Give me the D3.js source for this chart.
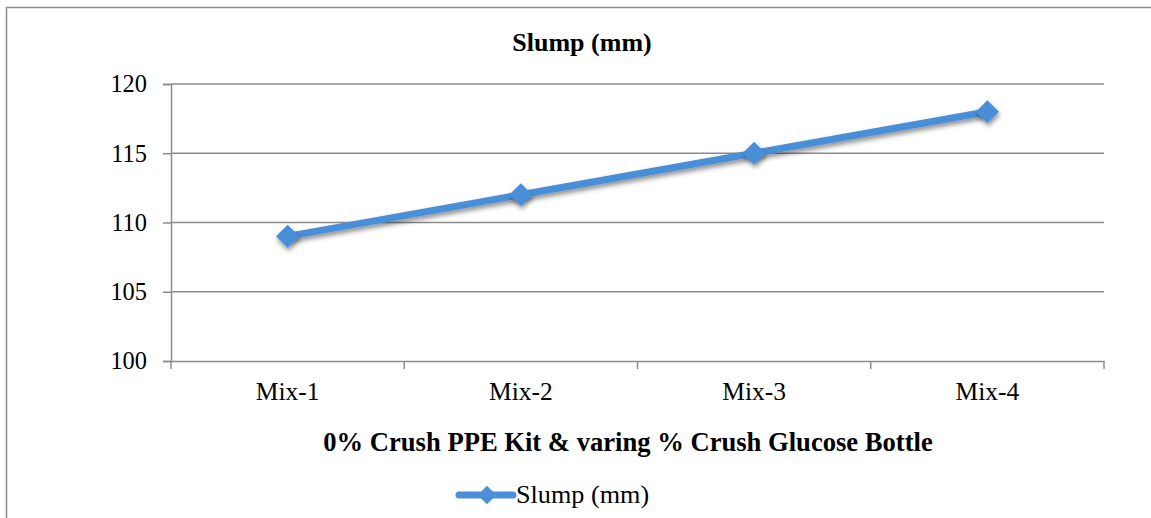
<!DOCTYPE html>
<html>
<head>
<meta charset="utf-8">
<script src="https://cdn.jsdelivr.net/npm/d3@7"></script>
<style>
  body { margin: 0; background: #fff; }
  svg { display: block; font-family: "Liberation Serif", "Times New Roman", serif; }
</style>
</head>
<body>
<script>
const width = 1151;
const height = 518;

const categories = ['Mix-1', 'Mix-2', 'Mix-3', 'Mix-4'];
const slump = [109, 112, 115, 118];
const yTicks = [100, 105, 110, 115, 120];
const seriesName = 'Slump (mm)';

const plot = { left: 171, right: 1104, top: 84, bottom: 361 };
const lineColor = '#4a8fd8';
const gridColor = '#8c8c8c';

const svg = d3.select('body')
  .append('svg')
  .attr('width', width)
  .attr('height', height);

const defs = svg.append('defs');
const shadow = defs.append('filter')
  .attr('id', 'shadow')
  .attr('x', '-50%').attr('y', '-50%')
  .attr('width', '200%').attr('height', '200%');
shadow.append('feDropShadow')
  .attr('dx', 1).attr('dy', 3)
  .attr('stdDeviation', 2.5)
  .attr('flood-color', '#000')
  .attr('flood-opacity', 0.45);

// outer chart border (runs off the window on right and bottom)
svg.append('rect')
  .attr('x', 6.5).attr('y', 7.5)
  .attr('width', 1200).attr('height', 600)
  .attr('fill', 'none')
  .attr('stroke', gridColor)
  .attr('stroke-width', 1.5);

const x = d3.scaleBand()
  .domain(categories)
  .range([plot.left, plot.right]);

const y = d3.scaleLinear()
  .domain([100, 120])
  .range([plot.bottom, plot.top]);

// gridlines
svg.append('g')
  .selectAll('line')
  .data(yTicks.slice(1))
  .enter()
  .append('line')
  .attr('x1', plot.left)
  .attr('x2', plot.right)
  .attr('y1', d => y(d))
  .attr('y2', d => y(d))
  .attr('stroke', gridColor)
  .attr('stroke-width', 1.5);

// y axis
const yAxis = svg.append('g')
  .attr('transform', `translate(${plot.left},0)`)
  .call(d3.axisLeft(y).tickValues(yTicks).tickSize(8).tickPadding(16));
yAxis.select('.domain').attr('stroke', gridColor).attr('stroke-width', 1.5);
yAxis.selectAll('.tick line').attr('stroke', gridColor).attr('stroke-width', 1.5);
yAxis.selectAll('.tick text')
  .attr('font-family', '"Liberation Serif", serif')
  .attr('font-size', 24.4)
  .attr('fill', '#000');

// x axis
const xAxis = svg.append('g')
  .attr('transform', `translate(0,${plot.bottom})`)
  .call(d3.axisBottom(x).tickSize(0));
xAxis.select('.domain').attr('stroke', gridColor).attr('stroke-width', 1.5);
xAxis.selectAll('.tick text')
  .attr('font-family', '"Liberation Serif", serif')
  .attr('font-size', 25.5)
  .attr('fill', '#000')
  .attr('y', 39)
  .attr('dy', 0);

// category boundary ticks
const bounds = categories.map(c => x(c)).concat([x.range()[1]]);
svg.append('g')
  .selectAll('line')
  .data(bounds)
  .enter()
  .append('line')
  .attr('x1', d => d).attr('x2', d => d)
  .attr('y1', plot.bottom).attr('y2', plot.bottom + 8)
  .attr('stroke', gridColor)
  .attr('stroke-width', 1.5);

// series line
const line = d3.line()
  .x((d, i) => x(categories[i]) + x.bandwidth() / 2)
  .y(d => y(d));

svg.append('path')
  .datum(slump)
  .attr('d', line)
  .attr('fill', 'none')
  .attr('stroke', lineColor)
  .attr('stroke-width', 7)
  .attr('stroke-linejoin', 'round')
  .attr('filter', 'url(#shadow)');

const diamond = d3.symbol().type(d3.symbolDiamond2).size(340);

svg.append('g')
  .selectAll('path')
  .data(slump)
  .enter()
  .append('path')
  .attr('d', diamond)
  .attr('transform', (d, i) => `translate(${x(categories[i]) + x.bandwidth() / 2},${y(d)})`)
  .attr('fill', lineColor)
  .attr('filter', 'url(#shadow)');

// title
svg.append('text')
  .text(seriesName)
  .attr('x', 582)
  .attr('y', 51)
  .attr('text-anchor', 'middle')
  .attr('font-size', 26)
  .attr('font-weight', 'bold');

// x axis title
svg.append('text')
  .text('0% Crush PPE Kit & varing % Crush Glucose Bottle')
  .attr('x', 628)
  .attr('y', 451)
  .attr('text-anchor', 'middle')
  .attr('font-size', 26.6)
  .attr('font-weight', 'bold');

// legend
const legend = svg.append('g').attr('transform', 'translate(0,495)');
legend.append('line')
  .attr('x1', 459).attr('x2', 513)
  .attr('y1', 0).attr('y2', 0)
  .attr('stroke', lineColor)
  .attr('stroke-width', 7)
  .attr('stroke-linecap', 'round');
legend.append('path')
  .attr('d', d3.symbol().type(d3.symbolDiamond2).size(220))
  .attr('transform', 'translate(487,0)')
  .attr('fill', lineColor);
legend.append('text')
  .text(seriesName)
  .attr('x', 516)
  .attr('y', 8)
  .attr('font-size', 26.2);
</script>
</body>
</html>
